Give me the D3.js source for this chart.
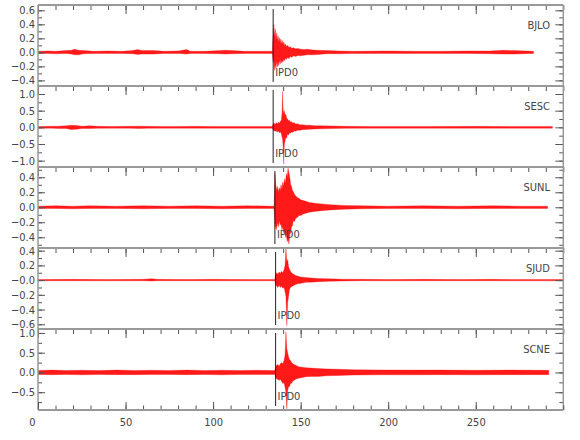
<!DOCTYPE html>
<html><head><meta charset="utf-8">
<script src="https://cdn.jsdelivr.net/npm/d3@7"></script>
<style>body{margin:0;background:#fff}</style></head>
<body>
<script>
// ---------- DATA (envelopes: [time, upper, lower]) ----------
const stations = ["BJLO", "SESC", "SUNL", "SJUD", "SCNE"];
const pickTimes = [134.3, 134.3, 135.3, 135.7, 135.7];
const pickLabel = "IPD0";
const xDomain = [0, 300];
const xTicks = [0, 50, 100, 150, 200, 250];
const yDomains = [[-0.48, 0.676], [-1.19, 1.24], [-0.543, 0.537], [-0.664, 0.436], [-0.95, 1.1]];
const yMajor = [[-0.4, -0.2, 0, 0.2, 0.4, 0.6], [-1, -0.5, 0, 0.5, 1], [-0.4, -0.2, 0, 0.2, 0.4], [-0.6, -0.4, -0.2, 0, 0.2, 0.4], [-0.5, 0, 0.5, 1]];
const yLabels = [["−0.4", "−0.2", "0.0", "0.2", "0.4", "0.6"], ["−1.0", "−0.5", "0.0", "0.5", "1.0"], ["−0.4", "−0.2", "0.0", "0.2", "0.4"], ["−0.6", "−0.4", "−0.2", "−0.0", "0.2", "0.4"], ["−0.5", "0.0", "0.5", "1.0"]];
const yMinorStep = [0.1, 0.25, 0.1, 0.1, 0.25];

const bjlo = [[0,.015,-.015],[6,.02,-.015],[10,.015,-.02],[16,.025,-.015],[19,.03,-.025],[21,.045,-.035],[23,.03,-.035],[26,.025,-.02],[32,.015,-.015],[40,.02,-.015],[48,.015,-.015],[54,.025,-.02],[57,.04,-.03],[59,.025,-.025],[66,.025,-.025],[72,.015,-.015],[80,.02,-.015],[85,.04,-.025],[87,.015,-.015],[95,.015,-.015],[104,.025,-.02],[107,.03,-.025],[111,.025,-.02],[118,.015,-.015],[126,.015,-.015],[133.8,.015,-.015],
 [134.3,.30,-.14],[134.7,.40,-.10],[135.1,.22,-.26],[135.5,.34,-.17],[135.9,.16,-.23],[136.3,.28,-.12],[136.7,.17,-.21],[137.1,.24,-.13],[137.5,.14,-.19],[137.9,.21,-.11],[138.3,.13,-.17],[138.7,.19,-.10],[139.1,.12,-.15],[139.5,.17,-.12],[139.9,.11,-.14],[140.4,.15,-.09],[140.9,.09,-.12],[141.4,.12,-.08],[142,.08,-.10],[142.6,.10,-.07],[143.3,.07,-.09],[144,.08,-.06],[145,.06,-.07],[146,.065,-.05],[147,.05,-.06],[148.5,.055,-.045],[150,.045,-.05],[152,.04,-.04],[154,.045,-.035],[157,.035,-.035],[160,.03,-.03],[165,.025,-.02],[172,.02,-.02],[180,.015,-.015],[200,.02,-.015],[215,.015,-.015],[230,.015,-.015],[245,.02,-.015],[258,.02,-.02],[266,.03,-.025],[272,.025,-.025],[283,.015,-.015]];

const sesc = [[0,.025,-.025],[8,.03,-.025],[12,.035,-.035],[16,.045,-.035],[19,.065,-.065],[22,.055,-.055],[25,.035,-.035],[30,.045,-.035],[34,.03,-.03],[42,.025,-.025],[52,.03,-.025],[58,.035,-.035],[62,.03,-.03],[70,.025,-.025],[80,.025,-.025],[90,.03,-.025],[100,.025,-.025],[110,.025,-.025],[120,.025,-.025],[133.8,.025,-.025],
 [134.3,.10,-.08],[134.9,.12,-.10],[135.5,.09,-.12],[136.1,.14,-.10],[136.7,.11,-.14],[137.3,.15,-.12],[137.9,.13,-.16],[138.5,.18,-.14],[139.0,.22,-.2],[139.4,.45,-.3],[139.7,1.08,-.35],[140.0,.55,-.6],[140.3,.4,-1.1],[140.7,.5,-.5],[141.1,.35,-.42],[141.5,.4,-.3],[142,.28,-.33],[142.5,.25,-.2],[143,.2,-.24],[143.5,.22,-.17],[144.1,.16,-.18],[144.8,.17,-.14],[145.5,.13,-.15],[146.3,.14,-.11],[147.2,.10,-.12],[148.2,.11,-.09],[149.5,.08,-.09],[151,.08,-.07],[153,.065,-.065],[155.5,.06,-.055],[158,.05,-.05],[162,.045,-.045],[168,.04,-.035],[176,.03,-.03],[190,.025,-.025],[200,.025,-.025],[225,.025,-.025],[250,.03,-.025],[270,.025,-.025],[293.8,.025,-.025]];

const sunl = [[0,.015,-.015],[10,.02,-.015],[20,.015,-.02],[30,.02,-.015],[45,.015,-.015],[60,.02,-.02],[75,.015,-.015],[90,.02,-.015],[105,.015,-.02],[120,.02,-.015],[134.8,.015,-.015],
 [135.3,.45,-.28],[135.8,.30,-.22],[136.3,.22,-.30],[136.8,.28,-.20],[137.3,.20,-.26],[137.8,.26,-.18],[138.3,.22,-.24],[138.8,.30,-.22],[139.3,.24,-.30],[139.8,.34,-.26],[140.3,.28,-.34],[140.8,.38,-.30],[141.3,.32,-.40],[141.8,.45,-.36],[142.3,.40,-.46],[142.8,.52,-.42],[143.3,.46,-.49],[143.8,.40,-.36],[144.3,.30,-.34],[144.8,.28,-.26],[145.3,.22,-.25],[145.8,.21,-.18],[146.5,.17,-.19],[147.3,.15,-.14],[148,.13,-.14],[149,.12,-.11],[150,.10,-.11],[151.5,.09,-.09],[153,.08,-.08],[155,.065,-.065],[158,.055,-.055],[162,.045,-.045],[167,.035,-.035],[175,.025,-.025],[185,.02,-.02],[200,.015,-.015],[220,.02,-.015],[240,.015,-.02],[260,.02,-.015],[275,.015,-.015],[291,.015,-.015]];

const sjud = [[0,.008,-.008],[20,.01,-.008],[40,.008,-.01],[60,.01,-.008],[65,.018,-.012],[68,.01,-.008],[85,.008,-.008],[100,.01,-.008],[120,.008,-.01],[135.2,.008,-.008],
 [135.7,.08,-.06],[136.3,.10,-.08],[137,.08,-.10],[137.7,.11,-.07],[138.4,.09,-.10],[139.1,.12,-.08],[139.8,.10,-.11],[140.5,.14,-.1],[141.1,.2,-.16],[141.6,.43,-.22],[142.1,.25,-.62],[142.6,.28,-.3],[143.1,.18,-.22],[143.6,.15,-.13],[144.2,.12,-.1],[144.8,.1,-.09],[145.5,.085,-.08],[146.3,.075,-.07],[147.2,.06,-.06],[148.2,.055,-.05],[149.5,.045,-.045],[151,.04,-.04],[153,.035,-.03],[156,.028,-.028],[160,.022,-.022],[166,.017,-.017],[174,.012,-.012],[185,.01,-.008],[200,.008,-.01],[220,.01,-.008],[240,.008,-.008],[260,.01,-.008],[280,.008,-.01],[300,.008,-.008]];

const scne = [[0,.05,-.05],[8,.06,-.055],[16,.05,-.05],[25,.055,-.06],[35,.05,-.05],[45,.06,-.055],[55,.05,-.055],[65,.055,-.05],[75,.05,-.05],[85,.06,-.055],[95,.05,-.05],[105,.055,-.06],[115,.05,-.05],[125,.055,-.05],[135.2,.05,-.05],
 [135.7,.15,-.12],[136.3,.18,-.16],[137,.2,-.18],[137.7,.16,-.2],[138.4,.22,-.18],[139.1,.25,-.22],[139.8,.22,-.28],[140.5,.3,-.26],[141.1,.45,-.38],[141.6,1.03,-.5],[142.1,.6,-.92],[142.6,.5,-.45],[143.1,.4,-.36],[143.6,.33,-.36],[144.2,.3,-.28],[144.8,.26,-.27],[145.5,.22,-.22],[146.3,.2,-.2],[147.2,.18,-.17],[148.2,.16,-.15],[149.5,.14,-.14],[151,.13,-.13],[153,.12,-.11],[156,.11,-.1],[160,.1,-.1],[165,.09,-.085],[172,.08,-.075],[180,.07,-.065],[195,.065,-.06],[210,.06,-.06],[230,.06,-.055],[250,.055,-.06],[270,.06,-.055],[291.7,.055,-.055]];

const traces = [bjlo, sesc, sunl, sjud, scne];

// ---------- LAYOUT ----------
const W = 580, H = 440;
const left = 38, right = 563.3, top0 = 5, panelH = 81;
const FONT = "'DejaVu Sans Condensed', 'DejaVu Sans', sans-serif";
const svg = d3.select("body").append("svg").attr("width", W).attr("height", H)
  .style("font-family", FONT).style("font-stretch", "condensed");

const x = d3.scaleLinear().domain(xDomain).range([left, right]);
const xMinor = d3.range(xDomain[0], xDomain[1] + 0.001, 10);

function styleAxis(g) {
  g.select(".domain").remove();
  g.selectAll(".tick line").attr("stroke", "#555").attr("stroke-width", 1);
  g.selectAll(".tick text").attr("fill", "#444").style("font-size", "11px")
    .style("font-family", FONT).style("font-stretch", "condensed");
}

stations.forEach((name, i) => {
  const top = top0 + i * panelH, bot = top + panelH;
  const y = d3.scaleLinear().domain(yDomains[i]).range([bot, top]);
  const g = svg.append("g");

  g.append("clipPath").attr("id", "clip" + i)
    .append("rect").attr("x", left).attr("y", top).attr("width", right - left).attr("height", panelH);

  // trace envelope
  const area = d3.area().x(d => x(d[0])).y0(d => y(d[2])).y1(d => y(d[1]));
  g.append("path").datum(traces[i]).attr("d", area)
    .attr("fill", "#ff0000").attr("fill-opacity", 0.9).attr("stroke", "#ff0000").attr("stroke-width", 0.3)
    .attr("stroke-linejoin", "round").attr("clip-path", `url(#clip${i})`);

  // pick line and label
  g.append("line").attr("x1", x(pickTimes[i])).attr("x2", x(pickTimes[i]))
    .attr("y1", top + 4).attr("y2", bot - 4).attr("stroke", "#222").attr("stroke-width", 1);
  g.append("text").attr("x", x(pickTimes[i]) + 2).attr("y", bot - 10)
    .attr("fill", "#444").style("font-size", "11px").text(pickLabel);

  // station name
  g.append("text").attr("x", 550).attr("y", top + 24).attr("text-anchor", "end")
    .attr("fill", "#444").style("font-size", "11px").text(name);

  // x ticks on top of panel (pointing down)
  const tMinor = g.append("g").attr("transform", `translate(0,${top})`)
    .call(d3.axisBottom(x).tickValues(xMinor).tickSize(5).tickFormat(""));
  styleAxis(tMinor);
  const tMajor = g.append("g").attr("transform", `translate(0,${top})`)
    .call(d3.axisBottom(x).tickValues(xTicks).tickSize(9).tickFormat(""));
  styleAxis(tMajor);

  // y ticks
  const step = yMinorStep[i];
  const yMin = d3.range(Math.ceil(yDomains[i][0] / step - 1e-6) * step, yDomains[i][1], step);
  const lMinor = g.append("g").attr("transform", `translate(${left},0)`)
    .call(d3.axisLeft(y).tickValues(yMin).tickSize(-4).tickFormat(""));
  styleAxis(lMinor);
  const lMajor = g.append("g").attr("transform", `translate(${left},0)`)
    .call(d3.axisLeft(y).tickValues(yMajor[i]).tickSize(-7).tickPadding(3).tickFormat((d, k) => yLabels[i][k]));
  styleAxis(lMajor);
  const rMinor = g.append("g").attr("transform", `translate(${right},0)`)
    .call(d3.axisRight(y).tickValues(yMin).tickSize(-4).tickFormat(""));
  styleAxis(rMinor);
  const rMajor = g.append("g").attr("transform", `translate(${right},0)`)
    .call(d3.axisRight(y).tickValues(yMajor[i]).tickSize(-8).tickFormat(""));
  styleAxis(rMajor);

  // frame lines
  g.append("line").attr("x1", left).attr("x2", right).attr("y1", top).attr("y2", top)
    .attr("stroke", "#999").attr("stroke-width", 2);
});

const bottom = top0 + stations.length * panelH;
// left & right frame
svg.append("line").attr("x1", left).attr("x2", left).attr("y1", top0).attr("y2", bottom)
  .attr("stroke", "#999").attr("stroke-width", 1.5);
svg.append("line").attr("x1", right).attr("x2", right).attr("y1", top0).attr("y2", bottom)
  .attr("stroke", "#999").attr("stroke-width", 1.5);

// bottom x axis
const bMinor = svg.append("g").attr("transform", `translate(0,${bottom})`)
  .call(d3.axisBottom(x).tickValues(xMinor).tickSize(-4.5).tickFormat(""));
styleAxis(bMinor);
const bMajor = svg.append("g").attr("transform", `translate(0,${bottom})`)
  .call(d3.axisBottom(x).tickValues(xTicks).tickSize(-8).tickPadding(8));
styleAxis(bMajor);
bMajor.selectAll(".tick text").filter(d => d === 0).attr("dx", -6);
svg.append("line").attr("x1", left).attr("x2", right).attr("y1", bottom).attr("y2", bottom)
  .attr("stroke", "#999").attr("stroke-width", 2);
</script>
</body></html>
